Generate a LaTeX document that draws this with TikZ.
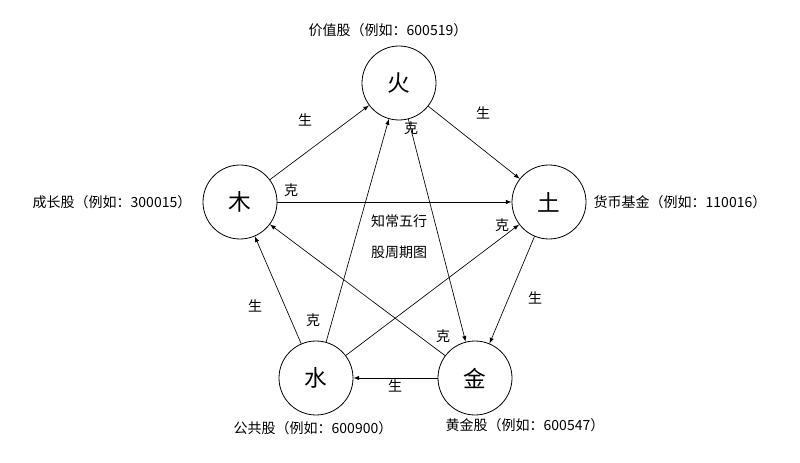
\documentclass[tikz,border=0pt]{standalone}
\usepackage{fontspec}
\setmainfont{Noto Sans CJK SC}
\begin{document}
\begin{tikzpicture}[x=0.75pt,y=-0.75pt,
  el/.style={circle,draw,line width=0.6pt,minimum size=74*0.75pt,inner sep=0pt,font=\fontsize{17}{20}\selectfont},
  lab/.style={font=\fontsize{10.5}{12}\selectfont},
  ar/.style={draw,line width=0.5pt,-latex},
  t/.style={font=\fontsize{10.5}{12}\selectfont}]
\useasboundingbox (0,0) rectangle (800,463);
\node[el] (huo) at (399,83) {火};
\node[el] (tu) at (549,202) {土};
\node[el] (jin) at (475,378) {金};
\node[el] (shui) at (316,378) {水};
\node[el] (mu) at (240,202) {木};
\node[lab] (l1) at (388,30) {价值股（例如：600519）};
\node[lab] (l2) at (680,202) {货币基金（例如：110016）};
\node[lab] (l3) at (525,425) {黄金股（例如：600547）};
\node[lab] (l4) at (313,428) {公共股（例如：600900）};
\node[lab] (l5) at (112,202) {成长股（例如：300015）};
\node[lab] (c1) at (399,221) {知常五行};
\node[lab] (c2) at (399,252) {股周期图};
\draw[ar] (mu) -- (huo);
\draw[ar] (huo) -- (tu);
\draw[ar] (tu) -- (jin);
\draw[ar] (jin) -- (shui);
\draw[ar] (shui) -- (mu);
\draw[ar] (mu) -- (tu);
\draw[ar] (shui) -- (tu);
\draw[ar] (shui) -- (huo);
\draw[ar] (huo) -- (jin);
\draw[ar] (jin) -- (mu);
\node[t] (s1) at (305,120) {生};
\node[t] (s2) at (483,113) {生};
\node[t] (s3) at (535,298) {生};
\node[t] (s4) at (395,386) {生};
\node[t] (s5) at (255,306) {生};
\node[t] (k1) at (411,128) {克};
\node[t] (k2) at (291,190) {克};
\node[t] (k3) at (502,225) {克};
\node[t] (k4) at (313,320) {克};
\node[t] (k5) at (443,336) {克};
\end{tikzpicture}
\end{document}
